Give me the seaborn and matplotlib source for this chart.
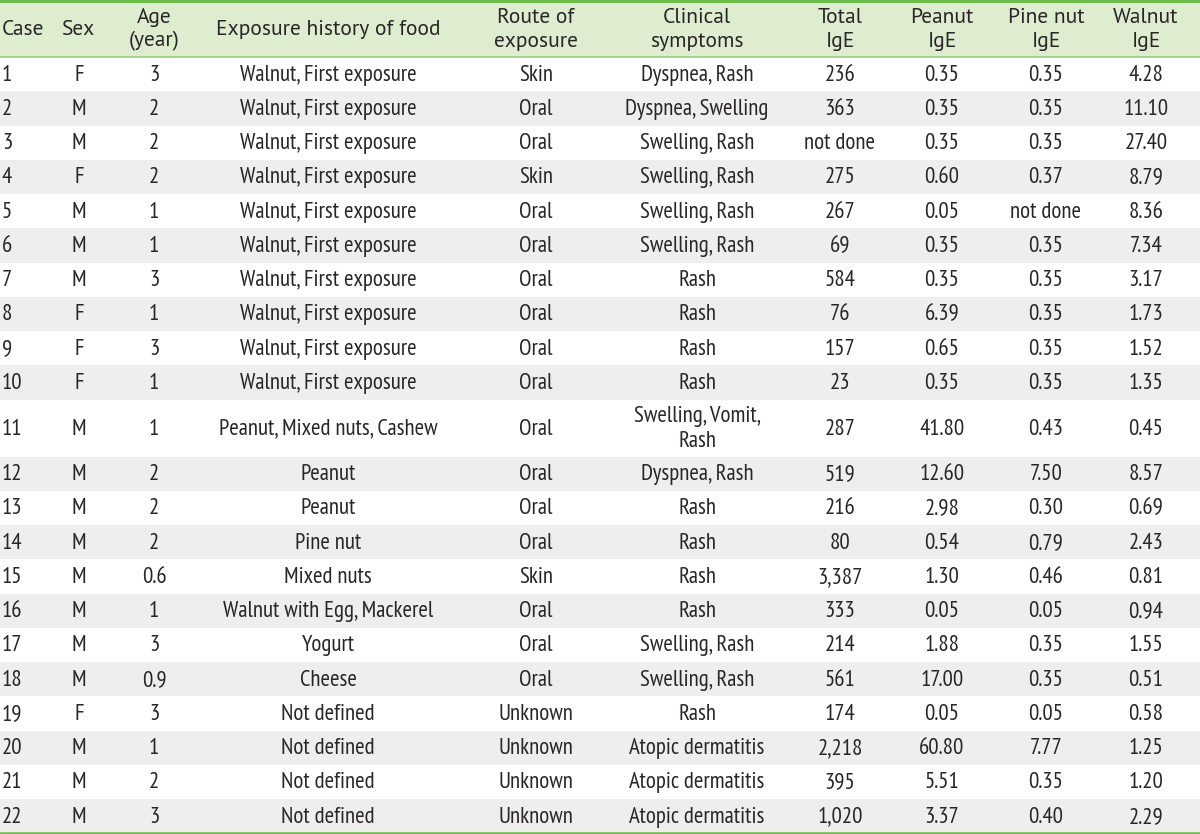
import matplotlib
matplotlib.use("Agg")
import matplotlib.pyplot as plt
import seaborn as sns
import numpy as np
import pandas as pd

# table contents
headers = ["Case", "Sex", "Age\n(year)", "Exposure history of food", "Route of\nexposure",
           "Clinical\nsymptoms", "Total\nIgE", "Peanut\nIgE", "Pine nut\nIgE", "Walnut\nIgE"]
case = [str(i) for i in range(1, 23)]
sex = ["F", "M", "M", "F", "M", "M", "M", "F", "F", "F", "M",
       "M", "M", "M", "M", "M", "M", "M", "F", "M", "M", "M"]
age = ["3", "2", "2", "2", "1", "1", "3", "1", "3", "1", "1",
       "2", "2", "2", "0.6", "1", "3", "0.9", "3", "1", "2", "3"]
exposure = ["Walnut, First exposure"] * 10 + [
    "Peanut, Mixed nuts, Cashew", "Peanut", "Peanut", "Pine nut", "Mixed nuts",
    "Walnut with Egg, Mackerel", "Yogurt", "Cheese",
    "Not defined", "Not defined", "Not defined", "Not defined"]
route = ["Skin", "Oral", "Oral", "Skin", "Oral", "Oral", "Oral", "Oral", "Oral", "Oral", "Oral",
         "Oral", "Oral", "Oral", "Skin", "Oral", "Oral", "Oral",
         "Unknown", "Unknown", "Unknown", "Unknown"]
symptoms = ["Dyspnea, Rash", "Dyspnea, Swelling", "Swelling, Rash", "Swelling, Rash",
            "Swelling, Rash", "Swelling, Rash", "Rash", "Rash", "Rash", "Rash",
            "Swelling, Vomit,\nRash", "Dyspnea, Rash", "Rash", "Rash", "Rash", "Rash",
            "Swelling, Rash", "Swelling, Rash", "Rash",
            "Atopic dermatitis", "Atopic dermatitis", "Atopic dermatitis"]
total_ige = ["236", "363", "not done", "275", "267", "69", "584", "76", "157", "23", "287",
             "519", "216", "80", "3,387", "333", "214", "561", "174", "2,218", "395", "1,020"]
peanut_ige = ["0.35", "0.35", "0.35", "0.60", "0.05", "0.35", "0.35", "6.39", "0.65", "0.35",
              "41.80", "12.60", "2.98", "0.54", "1.30", "0.05", "1.88", "17.00", "0.05",
              "60.80", "5.51", "3.37"]
pinenut_ige = ["0.35", "0.35", "0.35", "0.37", "not done", "0.35", "0.35", "0.35", "0.35",
               "0.35", "0.43", "7.50", "0.30", "0.79", "0.46", "0.05", "0.35", "0.35", "0.05",
               "7.77", "0.35", "0.40"]
walnut_ige = ["4.28", "11.10", "27.40", "8.79", "8.36", "7.34", "3.17", "1.73", "1.52", "1.35",
              "0.45", "8.57", "0.69", "2.43", "0.81", "0.94", "1.55", "0.51", "0.58", "1.25",
              "1.20", "2.29"]

df = pd.DataFrame({h: col for h, col in zip(headers, [case, sex, age, exposure, route, symptoms,
                                                       total_ige, peanut_ige, pinenut_ige, walnut_ige])})

# layout (in pixel-like units)
col_x = [2, 79, 154, 328, 536, 697, 840, 942, 1046, 1146]
col_ha = ["left"] + ["center"] * 9
header_h = 57
row_h = [57 if "\n" in s else 34.25 for s in symptoms]

sns.set_theme(style="white")
plt.rcParams["font.family"] = ["PT Sans", "DejaVu Sans"]
body_font = ["PT Sans Narrow", "DejaVu Sans"]
text_color = "#2a2627"

fig = plt.figure(figsize=(12, 8.34), dpi=100)
ax = fig.add_axes([0, 0, 1, 1])
ax.set_xlim(0, 1200)
ax.set_ylim(834, 0)
ax.axis("off")

# header band
ax.axhspan(0, header_h, color="#deedd0", lw=0)
for x, ha, h in zip(col_x, col_ha, headers):
    ax.text(x, header_h / 2 + 1, h, ha=ha, va="center", fontsize=15.5,
            color=text_color, linespacing=1.32)

# body rows
tops = header_h + np.concatenate([[0], np.cumsum(row_h)[:-1]])
for i, (top, h) in enumerate(zip(tops, row_h)):
    if i % 2 == 1:
        ax.axhspan(top, top + h, color="#eeeeee", lw=0)
    for x, ha, colname in zip(col_x, col_ha, df.columns):
        ax.text(x, top + h / 2 + 1, df[colname].iloc[i], ha=ha, va="center",
                fontsize=16.5, family=body_font, color=text_color, linespacing=1.3)

# rules
bottom = tops[-1] + row_h[-1]
ax.axhline(1.2, color="#6cbb4b", lw=2.2)
ax.axhline(header_h - 0.5, color="#8fcb72", lw=1.1)
ax.axhline(min(bottom, 832.5), color="#6cbb4b", lw=1.8)

fig.savefig("out.png", dpi=100)
